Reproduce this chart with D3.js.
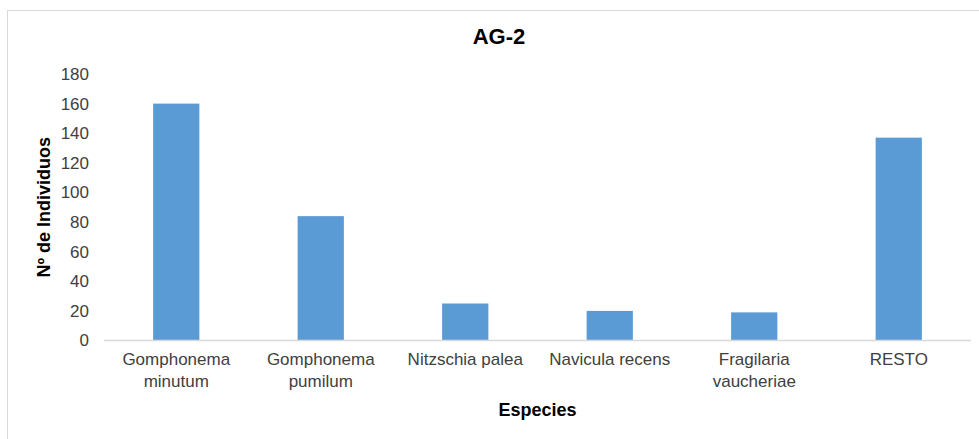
<!DOCTYPE html>
<html>
<head>
<meta charset="utf-8">
<script src="https://cdn.jsdelivr.net/npm/d3@7"></script>
<style>
  html, body { margin: 0; padding: 0; background: #fff; }
  svg { display: block; font-family: Arial, "Liberation Sans", sans-serif; }
</style>
</head>
<body>
<svg id="chart" width="979" height="439"></svg>
<script>
const categories = ["Gomphonema minutum", "Gomphonema pumilum", "Nitzschia palea", "Navicula recens", "Fragilaria vaucheriae", "RESTO"];
const values = [160, 84, 25, 20, 19, 137];
const yTicks = [0, 20, 40, 60, 80, 100, 120, 140, 160, 180];
const chartTitle = "AG-2";
const xTitle = "Especies";
const yTitle = "Nº de Individuos";

const svg = d3.select("#chart");
const W = 979, H = 439;
const plot = { left: 104, right: 971, top: 74, bottom: 340.5 };

// outer frame
svg.append("rect")
  .attr("x", 7.5).attr("y", 10.5)
  .attr("width", 1000).attr("height", 1000)
  .attr("fill", "#fff").attr("stroke", "#D9D9D9").attr("stroke-width", 1);

const x = d3.scaleBand()
  .domain(categories)
  .range([plot.left, plot.right])
  .paddingInner(0.68).paddingOuter(0.34);

const y = d3.scaleLinear()
  .domain([0, 180])
  .range([plot.bottom, plot.top]);

// bars
svg.append("g").selectAll("rect")
  .data(categories.map((c, i) => ({ c, v: values[i] })))
  .join("rect")
  .attr("x", d => x(d.c))
  .attr("y", d => y(d.v))
  .attr("width", x.bandwidth())
  .attr("height", d => y(0) - y(d.v))
  .attr("fill", "#5B9BD5");

// y axis (labels only)
const yAxis = d3.axisLeft(y).tickValues(yTicks).tickSize(0).tickPadding(15);
const gy = svg.append("g").attr("transform", `translate(${plot.left},0)`).call(yAxis);
gy.select(".domain").remove();
gy.selectAll("text")
  .attr("font-size", 17)
  .attr("font-family", "Arial, 'Liberation Sans', sans-serif")
  .attr("fill", "#404040");

// x axis
const xAxis = d3.axisBottom(x).tickSize(0).tickPadding(12);
const gx = svg.append("g").attr("transform", `translate(0,${plot.bottom})`).call(xAxis);
gx.select(".domain").attr("stroke", "#D9D9D9").attr("stroke-width", 1.5)
  .attr("d", `M${plot.left},0H${plot.right}`);
gx.selectAll("text")
  .attr("font-size", 17)
  .attr("font-family", "Arial, 'Liberation Sans', sans-serif")
  .attr("fill", "#404040")
  .each(function(d) {
    const t = d3.select(this);
    t.text(d);
    if (this.getComputedTextLength() > x.step() - 4) {
      const words = d.split(" ");
      const dy = t.attr("dy");
      t.text(null);
      words.forEach((w, i) => {
        t.append("tspan")
          .attr("x", 0)
          .attr("dy", i === 0 ? dy : "1.3em")
          .text(w);
      });
    }
  });

// title
svg.append("text")
  .attr("x", 499).attr("y", 44)
  .attr("text-anchor", "middle")
  .attr("font-size", 22).attr("font-weight", "bold")
  .attr("fill", "#000")
  .text(chartTitle);

// x title
svg.append("text")
  .attr("x", (plot.left + plot.right) / 2).attr("y", 416)
  .attr("text-anchor", "middle")
  .attr("font-size", 18).attr("font-weight", "bold")
  .attr("fill", "#000")
  .text(xTitle);

// y title
svg.append("text")
  .attr("transform", `translate(50,${(plot.top + plot.bottom) / 2}) rotate(-90)`)
  .attr("text-anchor", "middle")
  .attr("font-size", 18).attr("font-weight", "bold")
  .attr("fill", "#000")
  .text(yTitle);
</script>
</body>
</html>
